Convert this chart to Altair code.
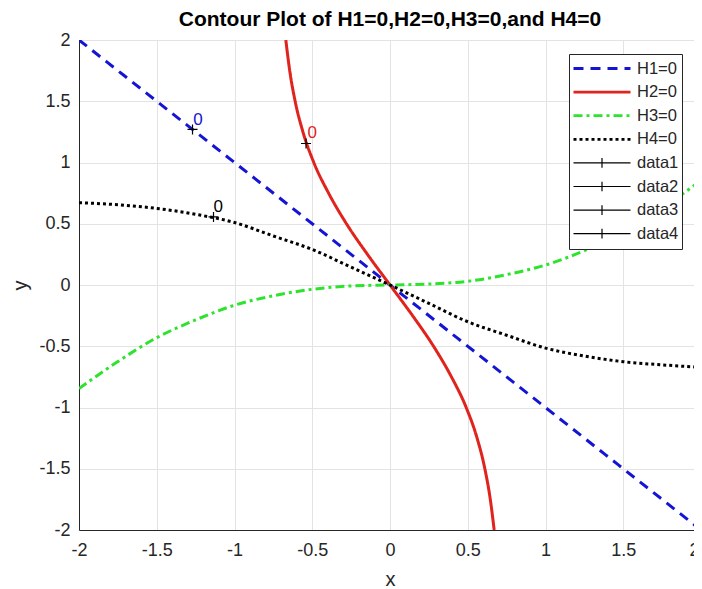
import altair as alt
import pandas as pd

# ---------------- data ----------------
series_names = ["H1=0", "H2=0", "H3=0", "H4=0", "data1", "data2", "data3", "data4"]
series_colors = ["#1414d4", "#e0231c", "#2ee32e", "#000000",
                 "#000000", "#000000", "#000000", "#000000"]
series_dash = [[10, 7], [1, 0], [9, 4, 3, 4], [3, 3], [1, 0], [1, 0], [1, 0], [1, 0]]
legend_paths = ["M-1,0L1,0"] * 4 + ["M-1,0L1,0M0,-0.17L0,0.17"] * 4

# H1 = 0 (blue dashed)
h1_x = [-2.0, -1.0, 0.0, 1.0, 2.0]
h1_y = [2.0, 1.0, 0.0, -1.0, -2.0]

# H2 = 0 (red solid)
h2_y = [2.0, 1.75, 1.5, 1.25, 1.0, 0.75, 0.5, 0.25, 0.0,
        -0.25, -0.5, -0.75, -1.0, -1.25, -1.5, -1.75, -2.0]
h2_x = [-0.67, -0.645, -0.61, -0.56, -0.49, -0.395, -0.28, -0.145, 0.0,
        0.145, 0.28, 0.395, 0.49, 0.56, 0.61, 0.645, 0.67]

# H3 = 0 (green dash-dot) and H4 = 0 (black dotted)
h34_x = [-2.0, -1.75, -1.5, -1.25, -1.0, -0.75, -0.5, -0.25, 0.0,
         0.25, 0.5, 0.75, 1.0, 1.25, 1.5, 1.75, 2.0]
h3_y = [-0.845, -0.625, -0.43, -0.285, -0.165, -0.088, -0.035, -0.008, 0.0,
        0.008, 0.03, 0.085, 0.163, 0.28, 0.43, 0.625, 0.855]
h4_y = [0.672, 0.655, 0.625, 0.577, 0.51, 0.40, 0.29, 0.145, 0.0,
        -0.15, -0.30, -0.41, -0.515, -0.58, -0.626, -0.652, -0.672]

# contour label markers (+) and their "0" texts
mk_x = [-1.27, -0.54, -1.135]
mk_y = [1.27, 1.155, 0.556]
mk_series = ["data1", "data2", "data3"]
lbl_x = [-1.235, -0.50, -1.105]
lbl_y = [1.35, 1.24, 0.635]
lbl_text = ["0", "0", "0"]
lbl_color = ["#1414d4", "#e0231c", "#000000"]

tick_values = [-2, -1.5, -1, -0.5, 0, 0.5, 1, 1.5, 2]

# ---------------- tables ----------------
rows = []
for i, (x, y) in enumerate(zip(h1_x, h1_y)):
    rows.append({"series": "H1=0", "x": x, "y": y, "ord": i})
for i, (x, y) in enumerate(zip(h2_x, h2_y)):
    rows.append({"series": "H2=0", "x": x, "y": y, "ord": i})
for i, (x, y) in enumerate(zip(h34_x, h3_y)):
    rows.append({"series": "H3=0", "x": x, "y": y, "ord": i})
for i, (x, y) in enumerate(zip(h34_x, h4_y)):
    rows.append({"series": "H4=0", "x": x, "y": y, "ord": i})
df_lines = pd.DataFrame(rows)

df_mk = pd.DataFrame({"x": mk_x, "y": mk_y, "series": mk_series})
df_lbl = pd.DataFrame({"x": lbl_x, "y": lbl_y, "t": lbl_text, "c": lbl_color})

FONT = "Liberation Sans"
TXT = "#262626"

xs = alt.Scale(domain=[-2, 2], nice=False, zero=False)
ys = alt.Scale(domain=[-2, 2], nice=False, zero=False)

x_axis = alt.Axis(values=tick_values, labelExpr="'' + datum.value", grid=True,
                  gridColor="#e3e3e3", ticks=False, domainColor=TXT,
                  labelFontSize=18, labelColor=TXT, labelFont=FONT,
                  labelPadding=11, labelFlush=False, labelOverlap=False,
                  labelOffset={"condition": {"test": "datum.value == 2", "value": -7},
                               "value": 0},
                  title="x", titleFontSize=20, titleFontWeight="normal",
                  titleColor=TXT, titleFont=FONT, titleY=49, titleBaseline="middle")
y_axis = alt.Axis(values=tick_values, labelExpr="'' + datum.value", grid=True,
                  gridColor="#e3e3e3", ticks=False, domainColor=TXT,
                  labelFontSize=18, labelColor=TXT, labelFont=FONT,
                  labelPadding=9, labelFlush=False, labelOverlap=False,
                  title="y", titleFontSize=20, titleFontWeight="normal",
                  titleColor=TXT, titleFont=FONT, titleX=-59, titleY=245,
                  titleAngle=270, titleBaseline="middle", titleAlign="center")

sw_expr = alt.ExprRef(
    expr="(indexof(['data1','data2','data3','data4'], datum.value) >= 0 ? 1.2 : 2.8)")

def leg():
    return alt.Legend(title=None, symbolStrokeWidth=sw_expr)

color_enc = alt.Color("series:N", scale=alt.Scale(domain=series_names, range=series_colors),
                      legend=leg())

lines = alt.Chart(df_lines).mark_line(clip=True, interpolate="monotone",
                                       strokeWidth=3, strokeCap="butt").encode(
    x=alt.X("x:Q", scale=xs, axis=x_axis),
    y=alt.Y("y:Q", scale=ys, axis=y_axis),
    color=color_enc,
    strokeDash=alt.StrokeDash("series:N",
                              scale=alt.Scale(domain=series_names, range=series_dash),
                              legend=leg()),
    order="ord:Q",
)

legend_shapes = alt.Chart(df_mk).transform_filter("false").mark_point(
    filled=False, opacity=1).encode(
    x=alt.X("x:Q", scale=xs),
    y=alt.Y("y:Q", scale=ys),
    color=color_enc,
    shape=alt.Shape("series:N", scale=alt.Scale(domain=series_names, range=legend_paths),
                    legend=leg()),
)

markers = alt.Chart(df_mk).mark_point(shape="M-1,0L1,0M0,-1L0,1", size=100, filled=False,
                                      color="#000000", strokeWidth=1.2, opacity=1).encode(
    x=alt.X("x:Q", scale=xs),
    y=alt.Y("y:Q", scale=ys),
)

labels = alt.Chart(df_lbl).mark_text(fontSize=17, font=FONT, align="center",
                                     baseline="middle").encode(
    x=alt.X("x:Q", scale=xs),
    y=alt.Y("y:Q", scale=ys),
    text="t:N",
    color=alt.Color("c:N", scale=None),
)

chart = alt.layer(lines, legend_shapes, markers, labels).properties(
    width=622, height=490,
    title=alt.Title("Contour Plot of H1=0,H2=0,H3=0,and H4=0", fontSize=21,
                    font=FONT, fontWeight="bold", color="#000000", offset=1,
                    anchor="middle"),
    autosize=alt.AutoSizeParams(type="none"),
    padding={"left": 71, "top": 32, "right": -7, "bottom": 58},
).configure_view(stroke=None).configure_legend(
    orient="none", legendX=490, legendY=14, clipHeight=23, rowPadding=0.6,
    symbolSize=3249, labelFontSize=16.5, labelFont=FONT,
    labelColor=TXT, labelOffset=5, padding=3, strokeColor=TXT,
    fillColor="white", symbolFillColor="transparent", symbolOpacity=1,
)

chart.save("out.html", embed_options={"renderer": "svg", "actions": False})
